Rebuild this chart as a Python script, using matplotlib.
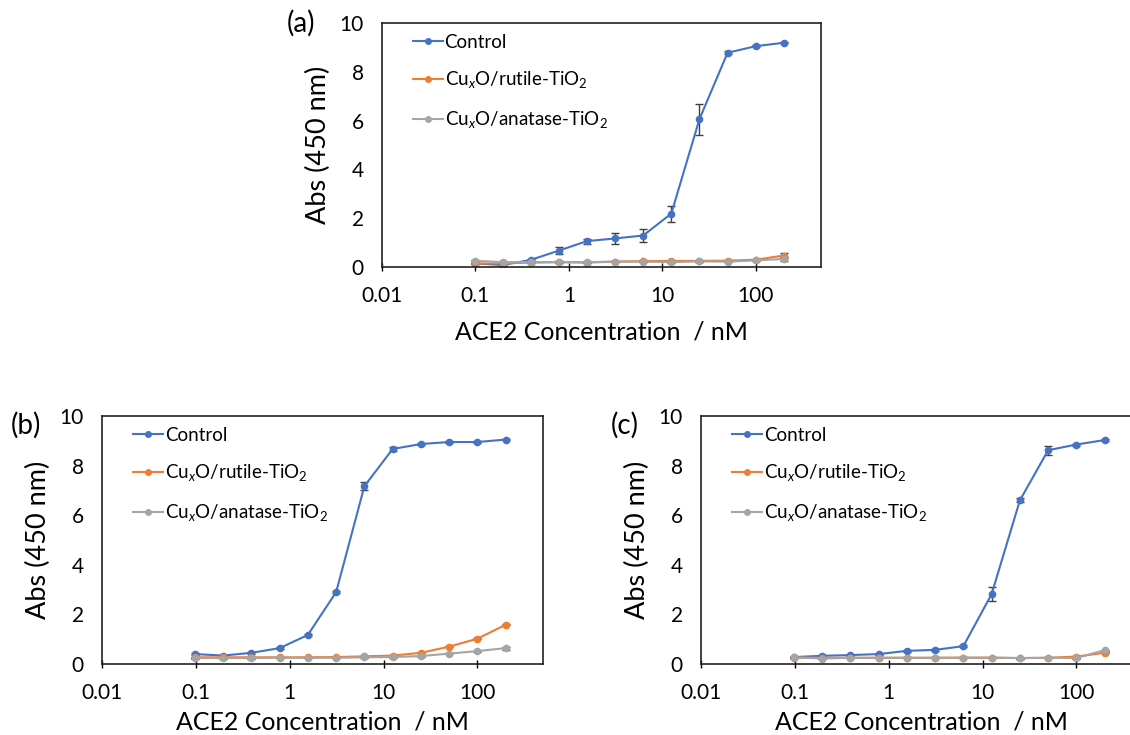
import numpy as np
import matplotlib
matplotlib.use("Agg")
import matplotlib.pyplot as plt
from matplotlib.lines import Line2D

plt.rcParams["font.family"] = ["Lato", "DejaVu Sans"]
plt.rcParams["mathtext.fontset"] = "custom"
plt.rcParams["mathtext.rm"] = "Lato"
plt.rcParams["mathtext.it"] = "Lato:italic"

# ACE2 concentrations (nM), two-fold dilution series
conc = [0.098, 0.195, 0.39, 0.78, 1.56, 3.125, 6.25, 12.5, 25, 50, 100, 200]

labels = ["Control", r"Cu$_x$O/rutile-TiO$_2$", r"Cu$_x$O/anatase-TiO$_2$"]
colors = ["#4472C4", "#ED7D31", "#A5A5A5"]

# panel (a)
a_control = [0.15, 0.08, 0.29, 0.67, 1.06, 1.17, 1.29, 2.19, 6.06, 8.78, 9.05, 9.19]
a_control_err = [0.03, 0.03, 0.05, 0.15, 0.1, 0.22, 0.27, 0.33, 0.64, 0.07, 0.05, 0.03]
a_rutile = [0.14, 0.15, 0.18, 0.2, 0.18, 0.22, 0.24, 0.25, 0.25, 0.26, 0.3, 0.47]
a_rutile_err = [0.03] * 11 + [0.1]
a_anatase = [0.26, 0.2, 0.2, 0.2, 0.2, 0.22, 0.22, 0.2, 0.23, 0.22, 0.27, 0.33]
a_anatase_err = [0.03] * 11 + [0.1]

# panel (b)
b_control = [0.4, 0.34, 0.45, 0.64, 1.17, 2.9, 7.17, 8.67, 8.87, 8.95, 8.95, 9.05]
b_control_err = [0.03, 0.03, 0.03, 0.03, 0.05, 0.05, 0.15, 0.08, 0.04, 0.03, 0.03, 0.03]
b_rutile = [0.27, 0.27, 0.27, 0.27, 0.27, 0.28, 0.31, 0.34, 0.45, 0.7, 1.02, 1.58]
b_rutile_err = [0.02] * 12
b_anatase = [0.24, 0.24, 0.24, 0.25, 0.25, 0.25, 0.27, 0.28, 0.32, 0.42, 0.52, 0.64]
b_anatase_err = [0.02] * 11 + [0.06]

# panel (c)
c_control = [0.28, 0.33, 0.36, 0.4, 0.53, 0.57, 0.72, 2.82, 6.6, 8.62, 8.85, 9.03]
c_control_err = [0.02, 0.02, 0.02, 0.02, 0.04, 0.04, 0.04, 0.28, 0.08, 0.18, 0.04, 0.03]
c_rutile = [0.25, 0.25, 0.25, 0.25, 0.25, 0.25, 0.25, 0.25, 0.24, 0.25, 0.3, 0.45]
c_rutile_err = [0.02] * 12
c_anatase = [0.27, 0.22, 0.25, 0.25, 0.25, 0.25, 0.26, 0.26, 0.24, 0.25, 0.24, 0.56]
c_anatase_err = [0.02] * 12

panels = [
    ("(a)", [a_control, a_rutile, a_anatase], [a_control_err, a_rutile_err, a_anatase_err]),
    ("(b)", [b_control, b_rutile, b_anatase], [b_control_err, b_rutile_err, b_anatase_err]),
    ("(c)", [c_control, c_rutile, c_anatase], [c_control_err, c_rutile_err, c_anatase_err]),
]

W, H = 1130, 735
fig = plt.figure(figsize=(W / 100, H / 100), dpi=100)

# axes boxes in pixels: left, top, right, bottom
boxes = [(382, 23, 821, 267), (102, 416, 543, 664), (701, 416, 1142, 664)]
panel_label_pos = [(287, 23), (11, 425), (611, 425)]
xlabel_pads = [10, 5, 5]

for (tag, series, errs), (l, t, r, b), (px, py), lpad in zip(panels, boxes, panel_label_pos, xlabel_pads):
    ax = fig.add_axes([l / W, 1 - b / H, (r - l) / W, (b - t) / H])
    handles = []
    for y, e, c, lab in zip(series, errs, colors, labels):
        ax.errorbar(conc, y, yerr=e, color=c, marker="o", markersize=4.5, lw=1.5,
                    ecolor="#404040", elinewidth=1, capsize=3, capthick=1)
        handles.append(Line2D([], [], color=c, marker="o", markersize=4, lw=1.5, label=lab))
    ax.set_xscale("log")
    ax.set_xlim(0.01, 500)
    ax.set_ylim(0, 10)
    ax.set_xticks([0.01, 0.1, 1, 10, 100])
    ax.set_xticklabels(["0.01", "0.1", "1", "10", "100"])
    ax.xaxis.set_minor_locator(matplotlib.ticker.NullLocator())
    ax.set_yticks([0, 2, 4, 6, 8, 10])
    ax.tick_params(axis="x", direction="inout", length=6, width=1, labelsize=15, pad=11)
    ax.tick_params(axis="y", length=0, labelsize=15, pad=13)
    for s in ax.spines.values():
        s.set_linewidth(1.2)
        s.set_color("#222222")
    ax.set_xlabel("ACE2 Concentration  / nM", fontsize=18, labelpad=lpad)
    ax.set_ylabel("Abs (450 nm)", fontsize=19.5, labelpad=6)
    ax.legend(handles=handles, loc="upper left", bbox_to_anchor=(0.04, 1.01), frameon=False,
              fontsize=13.5, labelspacing=1.0, handlelength=1.6, handletextpad=0.1,
              borderpad=0.2)
    fig.text(px / W, 1 - py / H, tag, fontsize=20, ha="left", va="center")

fig.savefig("out.png", dpi=100)
